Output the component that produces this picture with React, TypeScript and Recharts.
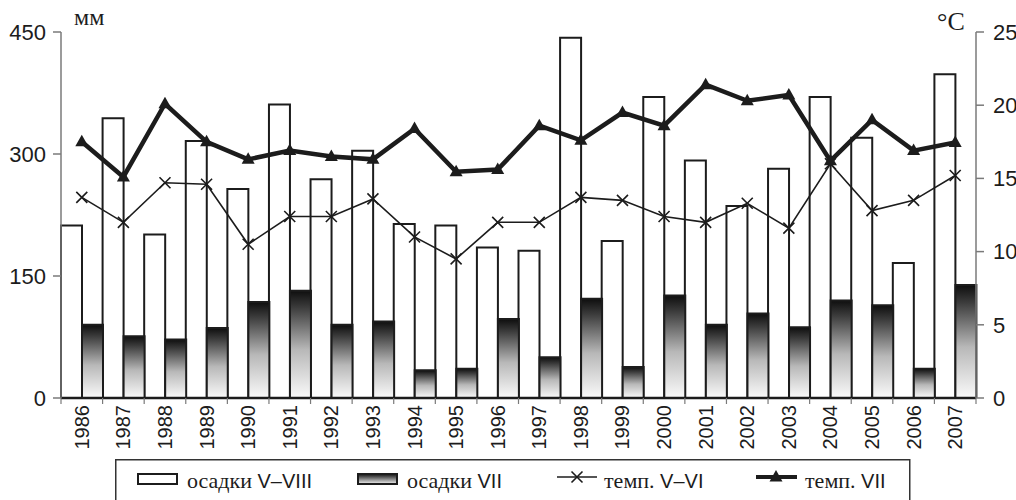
import { ComposedChart, Bar, Line, XAxis, YAxis, Legend } from 'recharts';

// years of observation
const years = ['1986', '1987', '1988', '1989', '1990', '1991', '1992', '1993', '1994', '1995', '1996',
  '1997', '1998', '1999', '2000', '2001', '2002', '2003', '2004', '2005', '2006', '2007'];

// precipitation, mm
const precipMayAug = [212, 344, 201, 316, 257, 361, 269, 304, 214, 212, 185, 181, 443, 193, 370, 292, 236, 282, 370, 320, 166, 398];
const precipJul = [90, 76, 72, 86, 118, 132, 90, 94, 34, 36, 97, 50, 122, 38, 126, 90, 104, 87, 120, 114, 36, 139];

// mean temperature, °C
const tempMayJun = [13.7, 12.0, 14.7, 14.6, 10.5, 12.4, 12.4, 13.6, 11.0, 9.5, 12.0, 12.0, 13.7, 13.5, 12.4, 12.0, 13.3, 11.6, 16.0, 12.8, 13.5, 15.2];
const tempJul = [17.5, 15.1, 20.1, 17.5, 16.3, 16.9, 16.5, 16.3, 18.4, 15.45, 15.6, 18.6, 17.6, 19.5, 18.6, 21.4, 20.3, 20.7, 16.2, 19.0, 16.9, 17.45];

const mmTicks = [0, 150, 300, 450];
const degTicks = [0, 5, 10, 15, 20, 25];

const data = years.map((year, i) => ({
  year,
  precipMayAug: precipMayAug[i],
  precipJul: precipJul[i],
  tempMayJun: tempMayJun[i],
  tempJul: tempJul[i],
}));

const INK = '#1c1c1c';
const GREY = '#7a7a7a';
const SANS = '"Liberation Sans", Arial, sans-serif';
const SERIF = '"Liberation Serif", "Times New Roman", serif';

// year label rotated, plus tick marks on the category borders
const YearTick = (props: any) => {
  const { x, y, payload, width, index } = props;
  const band = width / years.length;
  const top = y - 8;
  return (
    <g>
      <line x1={x - band / 2} x2={x - band / 2} y1={top} y2={top + 6} stroke={GREY} strokeWidth={1.2} />
      {index === years.length - 1 && (
        <line x1={x + band / 2} x2={x + band / 2} y1={top} y2={top + 6} stroke={GREY} strokeWidth={1.2} />
      )}
      <text
        x={x}
        y={y - 1}
        transform={`rotate(-90 ${x} ${y - 1})`}
        textAnchor="end"
        dominantBaseline="central"
        fontFamily={SANS}
        fontSize={20}
        fill={INK}
      >
        {payload.value}
      </text>
    </g>
  );
};

const CrossDot = (props: any) => {
  const { cx, cy } = props;
  if (cx == null || cy == null) return null;
  const s = 5.5;
  return (
    <path d={`M${cx - s},${cy - s}L${cx + s},${cy + s}M${cx - s},${cy + s}L${cx + s},${cy - s}`} stroke={INK} strokeWidth={1.6} fill="none" />
  );
};

const TriangleDot = (props: any) => {
  const { cx, cy } = props;
  if (cx == null || cy == null) return null;
  return <path d={`M${cx},${cy - 7}L${cx + 6.5},${cy + 4.5}L${cx - 6.5},${cy + 4.5}Z`} fill={INK} />;
};

const LegendBox = () => (
  <svg width={796} height={41} style={{ display: 'block' }}>
    <defs>
      <linearGradient id="legendShade" x1="0" y1="0" x2="0" y2="1">
        <stop offset="0%" stopColor="#111" />
        <stop offset="100%" stopColor="#f4f4f4" />
      </linearGradient>
    </defs>
    <rect x={0.75} y={0.75} width={794} height={60} fill="#fff" stroke="#333" strokeWidth={1.5} />

    <rect x={23} y={15} width={39} height={10} fill="#fff" stroke={INK} strokeWidth={2} />
    <text x={72} y={29} fontFamily={SERIF} fontSize={22} fill={INK}>
      осадки <tspan fontFamily={SANS} fontSize={20}>V–VIII</tspan>
    </text>

    <rect x={243} y={15} width={39} height={10} fill="url(#legendShade)" stroke={INK} strokeWidth={2} />
    <text x={292} y={29} fontFamily={SERIF} fontSize={22} fill={INK}>
      осадки <tspan fontFamily={SANS} fontSize={20}>VII</tspan>
    </text>

    <line x1={442} x2={482} y1={18} y2={18} stroke={INK} strokeWidth={1.6} />
    <CrossDot cx={462} cy={18} />
    <text x={489} y={29} fontFamily={SERIF} fontSize={22} fill={INK}>
      темп. <tspan fontFamily={SANS} fontSize={20}>V–VI</tspan>
    </text>

    <line x1={641} x2={682} y1={18} y2={18} stroke={INK} strokeWidth={4} />
    <TriangleDot cx={661} cy={18} />
    <text x={690} y={29} fontFamily={SERIF} fontSize={22} fill={INK}>
      темп. <tspan fontFamily={SANS} fontSize={20}>VII</tspan>
    </text>
  </svg>
);

export default function App() {
  return (
    <div style={{ position: 'absolute', left: 0, top: 0, background: '#fff' }}>
      <ComposedChart
        width={1016}
        height={500}
        data={data}
        margin={{ top: 32, right: 0, bottom: 42, left: 0 }}
        barCategoryGap={0}
        barGap={0}
      >
        <defs>
          <linearGradient id="julShade" x1="0" y1="0" x2="0" y2="1">
            <stop offset="0%" stopColor="#0e0e0e" />
            <stop offset="15%" stopColor="#3a3a3a" />
            <stop offset="55%" stopColor="#b8b8b8" />
            <stop offset="100%" stopColor="#fafafa" />
          </linearGradient>
        </defs>
        <XAxis
          dataKey="year"
          height={60}
          axisLine={{ stroke: INK, strokeWidth: 2.5 }}
          tickLine={false}
          tickSize={6}
          tickMargin={2}
          interval={0}
          tick={<YearTick />}
        />
        <YAxis
          yAxisId="mm"
          orientation="left"
          width={61}
          domain={[0, 450]}
          ticks={mmTicks}
          allowDataOverflow
          axisLine={{ stroke: GREY, strokeWidth: 1.5 }}
          tickLine={{ stroke: GREY, strokeWidth: 1.5 }}
          tickSize={8}
          tickMargin={7}
          tick={{ fontFamily: SANS, fontSize: 22, fill: INK }}
          label={({ viewBox }: any) => (
            <text x={viewBox.x + viewBox.width + 13} y={viewBox.y - 7} fontFamily={SERIF} fontSize={24} fill={INK}>
              мм
            </text>
          )}
        />
        <YAxis
          yAxisId="deg"
          orientation="right"
          width={40}
          domain={[0, 25]}
          ticks={degTicks}
          allowDataOverflow
          axisLine={{ stroke: GREY, strokeWidth: 1.5 }}
          tickLine={{ stroke: GREY, strokeWidth: 1.5 }}
          tickSize={8}
          tickMargin={9}
          tick={{ fontFamily: SANS, fontSize: 22, fill: INK }}
          label={({ viewBox }: any) => (
            <text x={viewBox.x - 39} y={viewBox.y - 2} fontFamily={SERIF} fontSize={26} fill={INK}>
              °C
            </text>
          )}
        />
        <Legend
          layout="horizontal"
          verticalAlign="middle"
          align="center"
          wrapperStyle={{ top: 459, left: 115, width: 796, height: 41 }}
          content={() => <LegendBox />}
        />
        <Bar yAxisId="mm" dataKey="precipMayAug" name="осадки V–VIII" fill="#fff" stroke={INK} strokeWidth={2} isAnimationActive={false} />
        <Bar yAxisId="mm" dataKey="precipJul" name="осадки VII" fill="url(#julShade)" stroke={INK} strokeWidth={2} isAnimationActive={false} />
        <Line
          yAxisId="deg"
          dataKey="tempMayJun"
          name="темп. V–VI"
          type="linear"
          stroke={INK}
          strokeWidth={1.6}
          dot={<CrossDot />}
          activeDot={false}
          isAnimationActive={false}
        />
        <Line
          yAxisId="deg"
          dataKey="tempJul"
          name="темп. VII"
          type="linear"
          stroke={INK}
          strokeWidth={4.5}
          strokeLinejoin="miter"
          dot={<TriangleDot />}
          activeDot={false}
          isAnimationActive={false}
        />
      </ComposedChart>
    </div>
  );
}
